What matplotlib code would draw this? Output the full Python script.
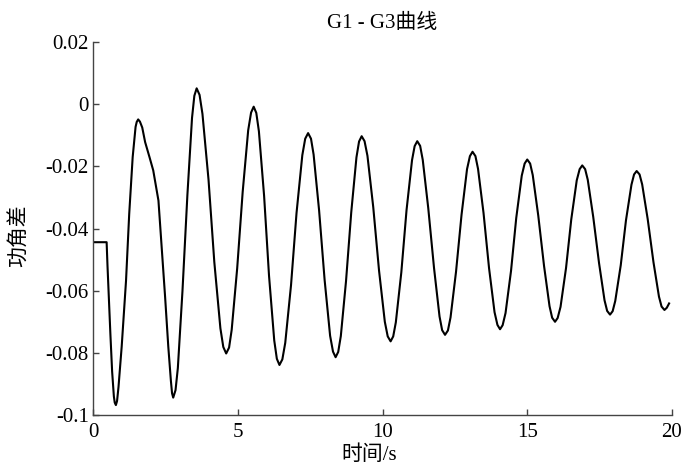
import matplotlib
matplotlib.use('Agg')
import matplotlib.pyplot as plt

plt.rcParams['font.family'] = ['Liberation Serif', 'Noto Sans CJK SC']
plt.rcParams['axes.unicode_minus'] = False

# Curva G1-G3, un semiciclo por fila (tiempo en s)
t = [0.00, 0.47, 0.50, 0.55, 0.60, 0.66, 0.72, 0.75, 0.79,
     0.83, 0.88, 0.99, 1.14, 1.25, 1.37, 1.47, 1.51, 1.56,
     1.62, 1.70, 1.80, 1.95, 2.08, 2.26, 2.37, 2.49, 2.60, 2.69, 2.73, 2.77,
     2.85, 2.93, 3.09, 3.26, 3.42, 3.50, 3.58,
     3.68, 3.78, 3.99, 4.19, 4.40, 4.50, 4.60,
     4.70, 4.79, 4.98, 5.17, 5.36, 5.46, 5.55,
     5.64, 5.73, 5.91, 6.08, 6.26, 6.35, 6.44,
     6.54, 6.64, 6.84, 7.03, 7.23, 7.33, 7.43,
     7.53, 7.62, 7.81, 8.00, 8.19, 8.29, 8.38,
     8.47, 8.56, 8.74, 8.92, 9.10, 9.19, 9.28,
     9.38, 9.48, 9.68, 9.88, 10.08, 10.18, 10.28,
     10.37, 10.46, 10.65, 10.83, 11.02, 11.11, 11.20,
     11.30, 11.39, 11.58, 11.78, 11.97, 12.06, 12.16,
     12.26, 12.35, 12.54, 12.73, 12.92, 13.02, 13.11,
     13.21, 13.30, 13.49, 13.68, 13.87, 13.97, 14.06,
     14.15, 14.25, 14.44, 14.62, 14.81, 14.91, 15.00,
     15.10, 15.19, 15.38, 15.58, 15.77, 15.86, 15.96,
     16.05, 16.15, 16.34, 16.52, 16.71, 16.81, 16.90,
     17.00, 17.09, 17.28, 17.48, 17.67, 17.76, 17.86,
     17.95, 18.04, 18.23, 18.41, 18.60, 18.69, 18.78,
     18.88, 18.97, 19.16, 19.36, 19.55, 19.64, 19.74,
     19.82, 19.90]
delta = [-0.0444, -0.0444, -0.0520, -0.0630, -0.0740, -0.0860, -0.0940, -0.0960, -0.0968,
         -0.0955, -0.0910, -0.0780, -0.0568, -0.0353, -0.0170, -0.0073, -0.0057, -0.0049,
         -0.0056, -0.0075, -0.0122, -0.0170, -0.0213, -0.0310, -0.0460, -0.0620, -0.0780, -0.0890, -0.0930, -0.0944,
         -0.0920, -0.0849, -0.0601, -0.0292, -0.0044, 0.0027, 0.0051,
         0.0030, -0.0031, -0.0243, -0.0508, -0.0721, -0.0781, -0.0802,
         -0.0783, -0.0726, -0.0528, -0.0282, -0.0084, -0.0027, -0.0008,
         -0.0028, -0.0087, -0.0295, -0.0552, -0.0760, -0.0819, -0.0839,
         -0.0821, -0.0768, -0.0582, -0.0350, -0.0164, -0.0111, -0.0093,
         -0.0111, -0.0162, -0.0342, -0.0565, -0.0745, -0.0796, -0.0814,
         -0.0797, -0.0746, -0.0569, -0.0348, -0.0171, -0.0120, -0.0103,
         -0.0119, -0.0166, -0.0331, -0.0535, -0.0700, -0.0747, -0.0763,
         -0.0747, -0.0702, -0.0541, -0.0341, -0.0180, -0.0135, -0.0119,
         -0.0134, -0.0179, -0.0334, -0.0527, -0.0683, -0.0727, -0.0742,
         -0.0728, -0.0686, -0.0539, -0.0356, -0.0209, -0.0167, -0.0153,
         -0.0167, -0.0208, -0.0350, -0.0527, -0.0669, -0.0710, -0.0724,
         -0.0711, -0.0672, -0.0536, -0.0366, -0.0230, -0.0191, -0.0178,
         -0.0191, -0.0228, -0.0358, -0.0520, -0.0650, -0.0687, -0.0700,
         -0.0688, -0.0652, -0.0527, -0.0371, -0.0245, -0.0209, -0.0197,
         -0.0209, -0.0243, -0.0363, -0.0511, -0.0631, -0.0665, -0.0677,
         -0.0666, -0.0633, -0.0518, -0.0374, -0.0259, -0.0226, -0.0215,
         -0.0226, -0.0258, -0.0369, -0.0508, -0.0619, -0.0651, -0.0662,
         -0.0655, -0.0641]

xticks = [0, 5, 10, 15, 20]
yticks = [0.02, 0, -0.02, -0.04, -0.06, -0.08, -0.1]
ytick_labels = ['0.02', '0', '-0.02', '-0.04', '-0.06', '-0.08', '-0.1']

fig = plt.figure(figsize=(6.85, 4.67), dpi=100)
ax = fig.add_axes([0.1358, 0.1113, 0.8452, 0.7987])

ax.plot(t, delta, color='black', lw=1.5, solid_joinstyle='round')

ax.set_xlim(0, 20)
ax.set_ylim(-0.1, 0.02)
ax.set_xticks(xticks)
ax.set_xticklabels([str(v) for v in xticks])
ax.set_yticks(yticks)
ax.set_yticklabels(ytick_labels)

for s in ['top', 'right']:
    ax.spines[s].set_visible(False)
for s in ['left', 'bottom']:
    ax.spines[s].set_color('#444444')
    ax.spines[s].set_linewidth(1.0)

ax.tick_params(direction='in', length=4, width=1.0, color='#444444',
               labelsize=15, labelcolor='black')
ax.tick_params(axis='x', pad=6)
ax.tick_params(axis='y', pad=3)

ax.set_title('G1 - G3曲线', fontsize=15, pad=10, fontweight='light')
ax.set_xlabel('时间/s', fontsize=15, fontweight='light')
ax.set_ylabel('功角差', fontsize=15, fontweight='light')
ax.xaxis.set_label_coords(0.4767, -0.082)
ax.yaxis.set_label_coords(-0.109, 0.48)

fig.savefig('out.png', dpi=100)
